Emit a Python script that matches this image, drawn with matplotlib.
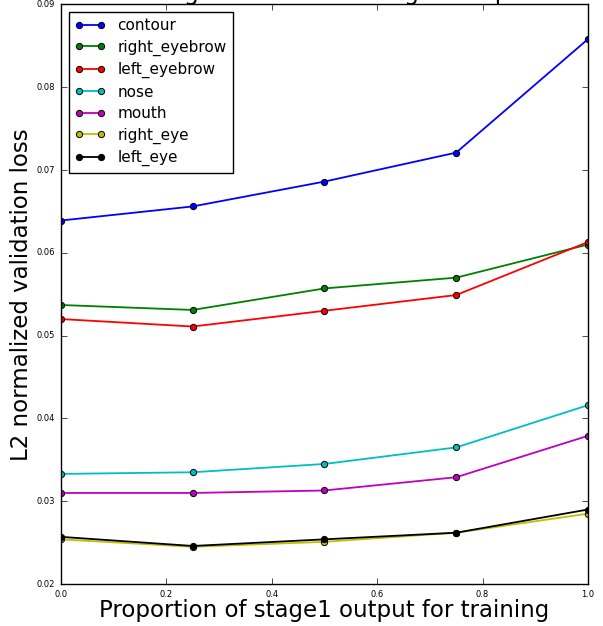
import numpy as np
import matplotlib
matplotlib.use('Agg')
import matplotlib.pyplot as plt

plt.style.use('classic')

# proportion of stage1 output used for training
proportion = [0.0, 0.25, 0.5, 0.75, 1.0]

contour = [0.0639, 0.0656, 0.0686, 0.0721, 0.0858]
right_eyebrow = [0.0537, 0.0531, 0.0557, 0.0570, 0.0610]
left_eyebrow = [0.0520, 0.0511, 0.0530, 0.0549, 0.0613]
nose = [0.0333, 0.0335, 0.0345, 0.0365, 0.0416]
mouth = [0.0310, 0.0310, 0.0313, 0.0329, 0.0379]
right_eye = [0.0254, 0.0245, 0.0251, 0.0262, 0.0285]
left_eye = [0.0257, 0.0246, 0.0254, 0.0262, 0.0290]

series = [
    ('contour', contour, 'b'),
    ('right_eyebrow', right_eyebrow, 'g'),
    ('left_eyebrow', left_eyebrow, 'r'),
    ('nose', nose, 'c'),
    ('mouth', mouth, 'm'),
    ('right_eye', right_eye, 'y'),
    ('left_eye', left_eye, 'k'),
]

fig = plt.figure(figsize=(6.03, 6.26), dpi=100)
fig.patch.set_facecolor('white')
ax = fig.add_axes([0.101, 0.067, 0.874, 0.926])

for name, vals, col in series:
    ax.plot(proportion, vals, color=col, marker='o', markersize=4.5,
            markeredgecolor='k', markeredgewidth=0.7, linewidth=1.3,
            label=name)

ax.set_xlim(0.0, 1.0)
ax.set_ylim(0.02, 0.09)
ax.set_xticks(np.arange(0.0, 1.01, 0.2))
ax.set_yticks(np.arange(0.02, 0.0901, 0.01))
ax.tick_params(labelsize=6)

ax.set_xlabel('Proportion of stage1 output for training', fontsize=16.5, labelpad=0.5)
ax.set_ylabel('L2 normalized validation loss', fontsize=16.5, labelpad=3)
ax.set_title('No augmentation for stage2 output', fontsize=17, pad=3)

ax.legend(loc='upper left', fontsize=11, numpoints=2, labelspacing=0.42)

fig.savefig('out.png', dpi=100, facecolor='white')
